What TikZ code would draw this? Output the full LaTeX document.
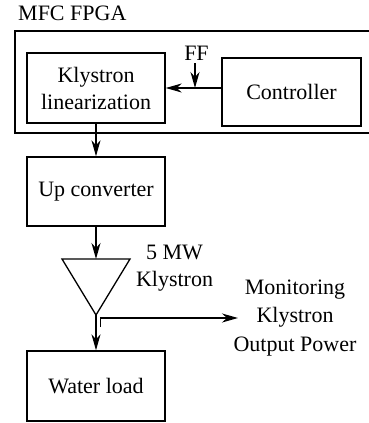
\documentclass[tikz,border=0pt]{standalone}
\usepackage{fontspec}
\setmainfont{Liberation Serif}
\usetikzlibrary{arrows.meta, positioning, calc}

\tikzset{
  blk/.style={draw, line width=1.4pt, minimum width=138pt, minimum height=70pt, inner sep=0pt, align=center},
  lbl/.style={inner sep=0pt, align=center},
  sig/.style={-{Stealth[length=16pt,width=9pt,inset=5pt]}, line width=1.4pt}
}

\begin{document}
\begin{tikzpicture}[x=1pt, y=-1pt, font=\fontsize{22}{27}\selectfont]
      \useasboundingbox (0,0) rectangle (368,423);

      % FPGA frame
      \draw[line width=1.4pt] (15,31) rectangle (375,133);
      \node[lbl, anchor=base west] (fpga) at (18,20) {MFC FPGA};

      \node[blk] (lin) at (96,88) {Klystron\\linearization};
      \node[blk, minimum width=139pt, minimum height=68pt] (ctrl) at (291.5,92) {Controller};
      \node[blk, minimum height=69pt] (upc) at (96,191.5) {Up converter};
      \node[blk] (load) at (96,386) {Water load};

      % klystron amplifier
      \coordinate (kin) at (96,259);
      \coordinate (kl) at (62,259);
      \coordinate (kr) at (130,259);
      \coordinate (kout) at (96,315);
      \draw[line width=1.3pt, line join=miter] (kl) -- (kr) -- (kout) -- cycle;
      \node[lbl, anchor=base] (kname) at (174.5,286) {5 MW\\Klystron};

      \node[lbl, anchor=base] (ff) at (196.5,60) {FF};
      \coordinate (ffin) at (195,88);

      \coordinate (tap) at (100.5,327);
      \coordinate (montip) at (238,318);
      \node[lbl, font=\fontsize{22}{28.5}\selectfont] (mon) at (295,318) {Monitoring\\Klystron\\Output Power};

      \draw[sig] (ctrl.west |- ffin) -- (lin.east |- ffin);
      \draw[sig] (ff.south) ++(-1.5,3) -- (ffin);
      \draw[sig] (lin) -- (upc);
      \draw[sig] (upc) -- (kin);
      \draw[sig] (kout) -- (load);
      \draw[sig] (tap) |- (montip);
    \end{tikzpicture}
\end{document}
